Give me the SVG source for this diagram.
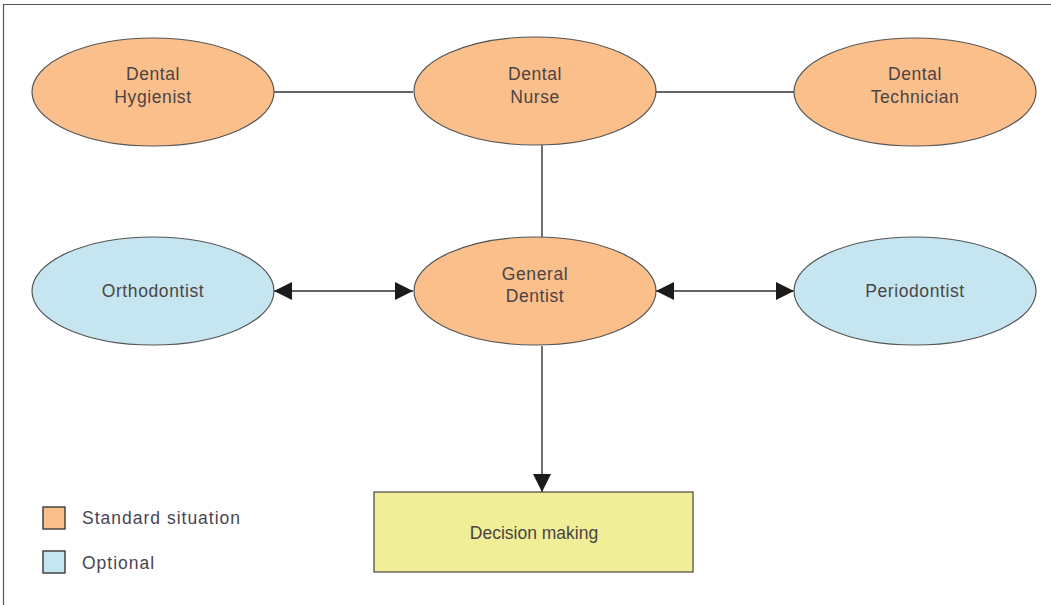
<svg xmlns="http://www.w3.org/2000/svg" width="1051" height="605" viewBox="0 0 1051 605">
<style>
.std{fill:#fbbf8c;stroke:#555;stroke-width:1.2}
.opt{fill:#c5e6f0;stroke:#555;stroke-width:1.2}
.dec{fill:#f0ee96;stroke:#444;stroke-width:1.2}
.t{font-family:"Liberation Sans",Arial,sans-serif;font-size:17.5px;fill:#4a4444;text-anchor:middle;letter-spacing:0.6px}
.lt{font-family:"Liberation Sans",Arial,sans-serif;font-size:17.5px;fill:#4a4450;letter-spacing:1px}
.ln{stroke:#333;stroke-width:1.4;fill:none}
</style>
<defs>
<marker id="ah" viewBox="0 0 10 10" refX="10" refY="5" markerWidth="18" markerHeight="20" markerUnits="userSpaceOnUse" orient="auto-start-reverse">
<path d="M0,0 L10,5 L0,10 z" fill="#1a1a1a"/>
</marker>
</defs>
<rect width="1051" height="605" fill="#fff"/>
<path d="M3.5,605 V4.5 H1051" fill="none" stroke="#555" stroke-width="1.2"/>
<g id="connectors">
<line class="ln" x1="274" y1="92" x2="413" y2="92"/>
<line class="ln" x1="656" y1="92" x2="794" y2="92"/>
<line class="ln" x1="542" y1="145" x2="542" y2="237"/>
<line class="ln" x1="274" y1="291" x2="413" y2="291" marker-start="url(#ah)" marker-end="url(#ah)"/>
<line class="ln" x1="656" y1="291" x2="794" y2="291" marker-start="url(#ah)" marker-end="url(#ah)"/>
<line class="ln" x1="542" y1="346" x2="542" y2="492" marker-end="url(#ah)"/>
</g>
<g id="hygienist">
<ellipse class="std" cx="153" cy="92" rx="121" ry="54"/>
<text class="t" x="153" y="80">Dental</text>
<text class="t" x="153" y="103">Hygienist</text>
</g>
<g id="nurse">
<ellipse class="std" cx="535" cy="91" rx="121" ry="54"/>
<text class="t" x="535" y="80">Dental</text>
<text class="t" x="535" y="103">Nurse</text>
</g>
<g id="technician">
<ellipse class="std" cx="915" cy="92" rx="121" ry="54"/>
<text class="t" x="915" y="80">Dental</text>
<text class="t" x="915" y="103">Technician</text>
</g>
<g id="orthodontist">
<ellipse class="opt" cx="153" cy="291" rx="121" ry="54"/>
<text class="t" x="153" y="297">Orthodontist</text>
</g>
<g id="general-dentist">
<ellipse class="std" cx="535" cy="291" rx="121" ry="54"/>
<text class="t" x="535" y="280">General</text>
<text class="t" x="535" y="302">Dentist</text>
</g>
<g id="periodontist">
<ellipse class="opt" cx="915" cy="291" rx="121" ry="54"/>
<text class="t" x="915" y="297">Periodontist</text>
</g>
<g id="decision">
<rect class="dec" x="374" y="492" width="319" height="80"/>
<text class="t" x="534" y="539" style="letter-spacing:0">Decision making</text>
</g>
<g id="legend">
<rect class="std" x="43" y="507" width="22" height="22" style="stroke:#444;stroke-width:1.5"/>
<text class="lt" x="82" y="524">Standard situation</text>
<rect class="opt" x="43" y="551" width="22" height="22" style="stroke:#444;stroke-width:1.5"/>
<text class="lt" x="82" y="569">Optional</text>
</g>
</svg>
